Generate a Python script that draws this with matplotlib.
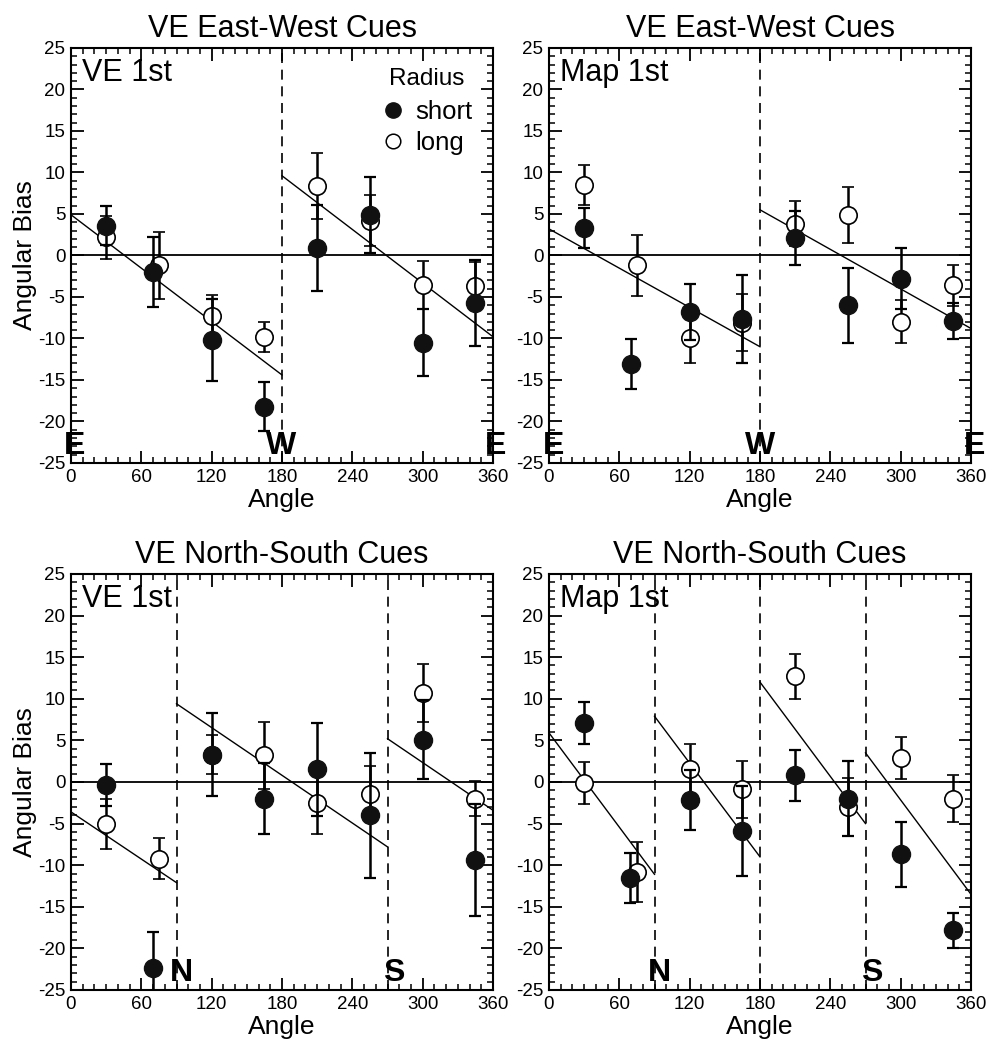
import numpy as np
import matplotlib
matplotlib.use("Agg")
from matplotlib import pyplot as plt
from matplotlib.lines import Line2D
from matplotlib.ticker import MultipleLocator

plt.rcParams["font.family"] = ["Liberation Sans", "DejaVu Sans"]
plt.rcParams["axes.unicode_minus"] = False

# VE East-West Cues, VE 1st
ew_ve_short_x = [30, 70, 120, 165, 210, 255, 300, 345]
ew_ve_short_y = [3.6, -2.0, -10.2, -18.2, 0.9, 4.9, -10.5, -5.7]
ew_ve_short_err = [2.4, 4.2, 4.9, 2.9, 5.2, 4.6, 4.0, 5.2]
ew_ve_long_x = [30, 75, 120, 165, 210, 255, 300, 345]
ew_ve_long_y = [2.2, -1.2, -7.3, -9.8, 8.4, 4.2, -3.6, -3.7]
ew_ve_long_err = [2.6, 4.0, 2.5, 1.8, 4.0, 3.1, 2.9, 2.9]
ew_ve_fit = [(0, 180, 4.9, -14.4), (180, 360, 9.6, -9.8)]

# VE East-West Cues, Map 1st
ew_map_short_x = [30, 70, 120, 165, 210, 255, 300, 345]
ew_map_short_y = [3.3, -13.1, -6.8, -7.6, 2.1, -6.0, -2.8, -7.9]
ew_map_short_err = [2.4, 3.0, 3.4, 5.3, 3.2, 4.5, 3.7, 2.2]
ew_map_long_x = [30, 75, 120, 165, 210, 255, 300, 345]
ew_map_long_y = [8.5, -1.2, -9.9, -8.1, 3.8, 4.9, -8.0, -3.6]
ew_map_long_err = [2.4, 3.7, 3.0, 3.4, 2.7, 3.4, 2.6, 2.5]
ew_map_fit = [(0, 180, 3.2, -11.0), (180, 360, 5.5, -8.8)]

# VE North-South Cues, VE 1st
ns_ve_short_x = [30, 70, 120, 165, 210, 255, 300, 345]
ns_ve_short_y = [-0.4, -22.3, 3.3, -2.0, 1.5, -4.0, 5.1, -9.4]
ns_ve_short_err = [2.5, 4.3, 5.0, 4.3, 5.6, 7.5, 4.7, 6.7]
ns_ve_long_x = [30, 75, 120, 165, 210, 255, 300, 345]
ns_ve_long_y = [-5.1, -9.2, 3.3, 3.2, -2.5, -1.4, 10.7, -2.0]
ns_ve_long_err = [3.0, 2.5, 2.3, 4.0, 3.7, 3.3, 3.5, 2.1]
ns_ve_fit = [(0, 90, -3.6, -12.1), (90, 270, 9.4, -7.8), (270, 360, 5.2, -3.4)]

# VE North-South Cues, Map 1st
ns_map_short_x = [30, 69, 120, 165, 210, 255, 300, 345]
ns_map_short_y = [7.1, -11.5, -2.2, -5.9, 0.8, -2.0, -8.7, -17.8]
ns_map_short_err = [2.5, 3.0, 3.6, 5.4, 3.1, 4.5, 3.9, 2.1]
ns_map_long_x = [30, 75, 120, 165, 210, 255, 300, 345]
ns_map_long_y = [-0.1, -10.8, 1.6, -0.9, 12.7, -3.0, 2.9, -2.0]
ns_map_long_err = [2.5, 3.6, 3.0, 3.4, 2.7, 3.5, 2.5, 2.8]
ns_map_fit = [(0, 90, 5.9, -11.1), (90, 180, 7.9, -9.0), (180, 270, 12.0, -5.0), (270, 360, 3.5, -13.5)]

ew_dividers = [180]
ns_ve_dividers = [90, 270]
ns_map_dividers = [90, 180, 270]
ew_ve_letters = [("E", 3), ("W", 179), ("E", 362)]
ew_map_letters = [("E", 4), ("W", 180), ("E", 363)]
ns_letters = [("N", 94), ("S", 275)]

x_ticks = [0, 60, 120, 180, 240, 300, 360]
y_ticks = [25, 20, 15, 10, 5, 0, -5, -10, -15, -20, -25]


def draw_panel(ax, title, tag, short, long_, fits, dividers, letters, ylabel):
    ax.set_xlim(0, 360)
    ax.set_ylim(-25, 25)
    ax.axhline(0, color="black", lw=1.3, zorder=1)
    for d in dividers:
        ax.axvline(d, color="black", lw=1.2, ls=(0, (6, 4)), zorder=1)
    for x0, x1, y0, y1 in fits:
        ax.plot([x0, x1], [y0, y1], color="black", lw=1.0, zorder=2)
    ax.errorbar(long_[0], long_[1], yerr=long_[2], fmt="o", ms=12.5, mfc="white",
                mec="black", mew=1.2, ecolor="black", elinewidth=1.8, capsize=4,
                capthick=1.6, zorder=3)
    ax.errorbar(short[0], short[1], yerr=short[2], fmt="o", ms=13, mfc="#111111",
                mec="#111111", ecolor="black", elinewidth=1.8, capsize=4,
                capthick=1.6, zorder=4)
    for letter, x in letters:
        ax.text(x, -23.9, letter, ha="center", va="baseline", fontsize=23,
                fontweight="bold", zorder=5, clip_on=False)
    ax.text(0.025, 0.975, tag, transform=ax.transAxes, ha="left", va="top", fontsize=22)
    ax.set_title(title, fontsize=22, pad=8)
    ax.set_xlabel("Angle", fontsize=19, labelpad=2)
    if ylabel:
        ax.set_ylabel("Angular Bias", fontsize=19, labelpad=1)
    ax.set_xticks(x_ticks)
    ax.set_yticks(y_ticks)
    ax.xaxis.set_minor_locator(MultipleLocator(10))
    ax.yaxis.set_minor_locator(MultipleLocator(1))
    ax.tick_params(which="both", direction="in", top=True, right=True, labelsize=13.5)
    ax.tick_params(which="major", length=9, width=1.3, pad=4)
    ax.tick_params(which="minor", length=4.5, width=1.1)
    for s in ax.spines.values():
        s.set_linewidth(1.5)


fig = plt.figure(figsize=(10, 10.56), dpi=100)
ax1 = fig.add_axes([0.071, 0.5616, 0.422, 0.393])
ax2 = fig.add_axes([0.549, 0.5616, 0.422, 0.393])
ax3 = fig.add_axes([0.071, 0.0625, 0.422, 0.394])
ax4 = fig.add_axes([0.549, 0.0625, 0.422, 0.394])

draw_panel(ax1, "VE East-West Cues", "VE 1st",
           (ew_ve_short_x, ew_ve_short_y, ew_ve_short_err),
           (ew_ve_long_x, ew_ve_long_y, ew_ve_long_err),
           ew_ve_fit, ew_dividers, ew_ve_letters, True)
draw_panel(ax2, "VE East-West Cues", "Map 1st",
           (ew_map_short_x, ew_map_short_y, ew_map_short_err),
           (ew_map_long_x, ew_map_long_y, ew_map_long_err),
           ew_map_fit, ew_dividers, ew_map_letters, False)
draw_panel(ax3, "VE North-South Cues", "VE 1st",
           (ns_ve_short_x, ns_ve_short_y, ns_ve_short_err),
           (ns_ve_long_x, ns_ve_long_y, ns_ve_long_err),
           ns_ve_fit, ns_ve_dividers, ns_letters, True)
draw_panel(ax4, "VE North-South Cues", "Map 1st",
           (ns_map_short_x, ns_map_short_y, ns_map_short_err),
           (ns_map_long_x, ns_map_long_y, ns_map_long_err),
           ns_map_fit, ns_map_dividers, ns_letters, False)

handles = [Line2D([], [], ls="none", marker="o", ms=11, mfc="#111111", mec="#111111"),
           Line2D([], [], ls="none", marker="o", ms=10.5, mfc="white", mec="black", mew=1.1)]
leg = ax1.legend(handles, ["short", "long"], title="Radius", loc="upper right",
                 frameon=False, fontsize=18.5, title_fontsize=17.5, handletextpad=0.35,
                 labelspacing=0.25, borderaxespad=0.4, handlelength=1.0)
leg._legend_box.sep = 7

fig.savefig("out.png", dpi=100)
